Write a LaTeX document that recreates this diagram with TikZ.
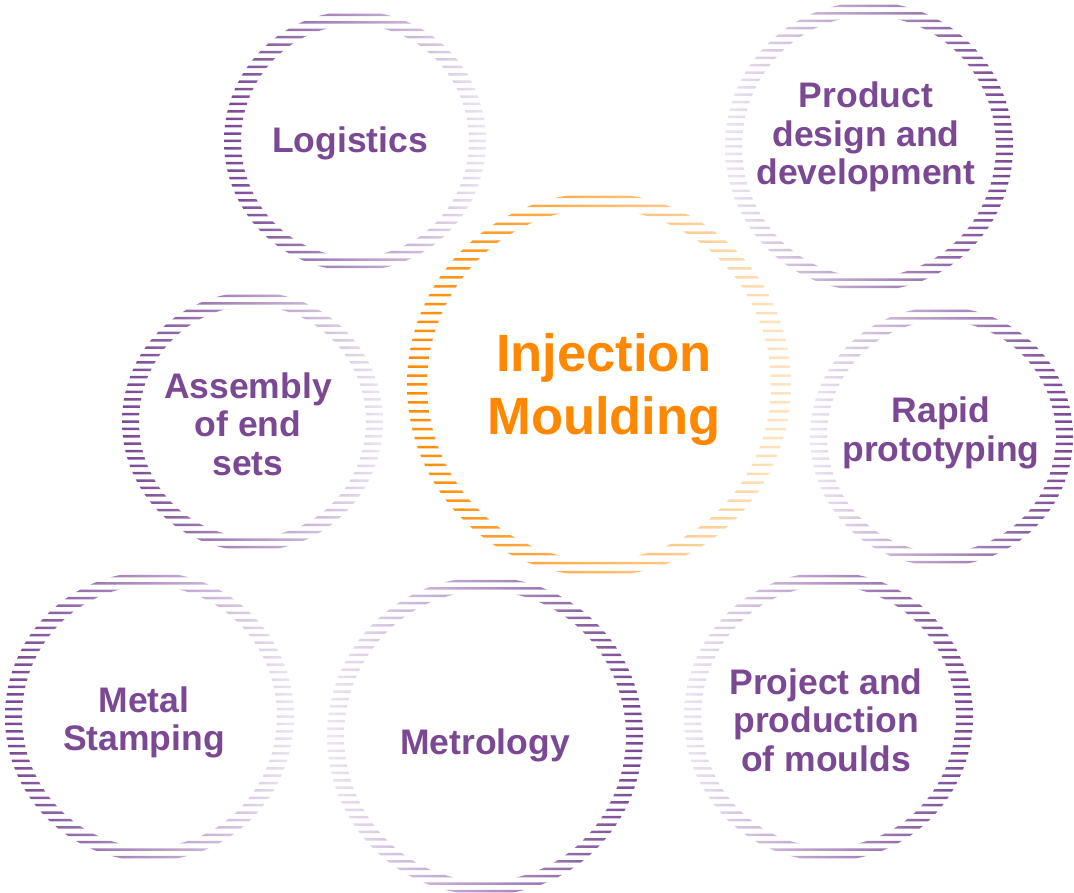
\documentclass[tikz,border=0pt]{standalone}
\usepackage{fontspec}
\setmainfont{Liberation Sans}
\definecolor{txtpurple}{RGB}{123,72,148}
\definecolor{pdark}{RGB}{120,70,148}
\definecolor{plight}{RGB}{238,230,244}
\definecolor{odark}{RGB}{255,138,0}
\definecolor{olight}{RGB}{255,230,198}
\definecolor{txtorange}{RGB}{255,136,0}
\newcommand\ringstripes[9]{%
  \pgfmathsetmacro\rOx{#3}%
  \pgfmathsetmacro\rOy{#4+4}%
  \pgfmathsetmacro\rIx{#3-#5}%
  \pgfmathsetmacro\rIy{#4+4-#6}%
  \pgfmathtruncatemacro\nS{round(2*#4/#7)}%
  \pgfmathsetmacro\sS{2*#4/\nS}%
  \begin{scope}[even odd rule]
    \clip (#1,#2) ellipse [x radius=\rOx pt, y radius=\rOy pt]
      (#1,#2) ellipse [x radius=-\rIx pt, y radius=\rIy pt];
    \clip \foreach \k in {0,...,\nS} {
      (#1-#3-2, #2-#4+\k*\sS-1.25) rectangle (#1+#3+2, #2-#4+\k*\sS+1.25) };
    \shade[left color=#8, right color=#9] (#1-#3-2,#2-#4-8) rectangle (#1+#3+2,#2+#4+8);
  \end{scope}}
\tikzset{
  lbl/.style={text=txtpurple, font=\fontsize{35.5}{38.5}\selectfont\bfseries, align=center, inner sep=0pt},
  mainlbl/.style={text=txtorange, font=\fontsize{52.5}{63}\selectfont\bfseries, align=center, inner sep=0pt}
}
\begin{document}
\begin{tikzpicture}[x=1pt,y=-1pt]
\useasboundingbox (0,0) rectangle (1074,893);
% rings: cx, cy, rx, half-height, tx, ty, spacing, left colour, right colour
\ringstripes{355}{141}{131}{126}{17}{14}{7.4}{pdark}{plight}
\ringstripes{869}{146.5}{144}{140.5}{17}{14}{7.4}{plight}{pdark}
\ringstripes{252.5}{421.5}{130.5}{125.5}{17}{14}{7.4}{pdark}{plight}
\ringstripes{941.5}{436.5}{131.5}{125.5}{17}{14}{7.4}{plight}{pdark}
\ringstripes{485}{736}{158}{155}{17}{14}{7.4}{plight}{pdark}
\ringstripes{828.5}{716.5}{144.5}{140.5}{17}{14}{7.4}{plight}{pdark}
\ringstripes{149.5}{716.5}{144.5}{140.5}{17}{14}{7.4}{pdark}{plight}
\ringstripes{599}{384.5}{192}{187.5}{20}{16}{8.9}{odark}{olight}
% labels
\node[lbl] (logistics) at (350,143) {Logistics};
\node[lbl] (product) at (866,137) {Product\\design and\\development};
\node[lbl] (assembly) at (248,424) {Assembly\\of end\\sets};
\node[lbl] (rapid) at (941,433) {Rapid\\prototyping};
\node[lbl] (metal) at (144,722.5) {Metal\\Stamping};
\node[lbl] (metrology) at (485,745.5) {Metrology};
\node[lbl] (project) at (826,720) {Project and\\production\\of moulds};
\node[mainlbl] (main) at (604,390) {Injection\\Moulding};
\end{tikzpicture}
\end{document}
